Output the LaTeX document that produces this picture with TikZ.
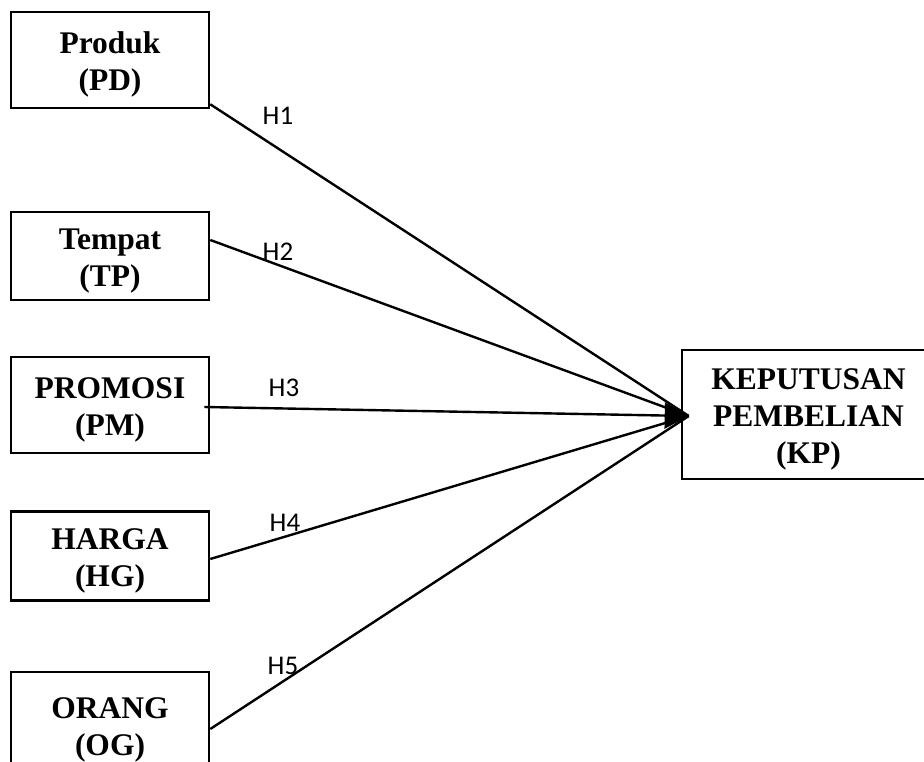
\documentclass[tikz,border=0pt]{standalone}
\usepackage{fontspec}
\setmainfont{Liberation Serif}
\newfontfamily\lblfont{Carlito}
\usetikzlibrary{arrows.meta,calc}
\newcommand\mytstrut{\rule{0pt}{31pt}}
\begin{document}
\begin{tikzpicture}[x=1pt,y=1pt,
  varbox/.style={draw=black, line width=2.6pt, rectangle, inner sep=0pt, align=center,
    font=\fontsize{31.5}{37}\selectfont\bfseries, minimum width=198pt},
  conn/.style={line width=2.4pt, draw=black},
  hlabel/.style={font=\lblfont\fontsize{27}{30}\selectfont, inner sep=0pt}
]
\useasboundingbox (0,0) rectangle (924,-762);
\fill[white] (0,0) rectangle (924,-762);

\node[varbox, minimum height=96pt] (pd) at (110,-60) {\mytstrut Produk\\(PD)};
\node[varbox, minimum height=88pt] (tp) at (110,-256) {\mytstrut Tempat\\(TP)};
\node[varbox, minimum height=96pt] (pm) at (110,-405) {\mytstrut PROMOSI\\(PM)};
\node[varbox, minimum height=89pt] (hg) at (110,-556) {\mytstrut HARGA\\(HG)};
\node[varbox, minimum height=106pt] (og) at (110,-725) {\mytstrut ORANG\\(OG)};
\node[varbox, minimum width=253pt, minimum height=129pt] (kp) at (808.5,-414.5) {\mytstrut KEPUTUSAN\\PEMBELIAN\\(KP)};

\coordinate (tip) at ([xshift=8pt,yshift=-1.5pt]kp.west);

\draw[conn] ([yshift=5pt]pd.south east) -- (tip);
\draw[conn] ([yshift=16pt]tp.east) -- (tip);
\draw[conn] ([yshift=-3pt]hg.east) -- (tip);
\draw[conn] ([yshift=-4pt]og.east) -- (tip);
\draw[conn, -{Triangle[length=24pt,width=26pt]}] ([shift={(-6pt,-2pt)}]pm.east) -- (tip);

\node[hlabel] (h1) at (278,-116) {H1};
\node[hlabel] (h2) at (278,-252) {H2};
\node[hlabel] (h3) at (284,-388) {H3};
\node[hlabel] (h4) at (285,-523) {H4};
\node[hlabel] (h5) at (283,-666) {H5};
\end{tikzpicture}
\end{document}
